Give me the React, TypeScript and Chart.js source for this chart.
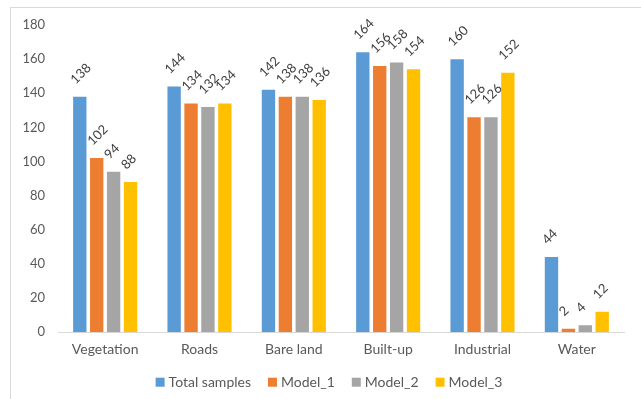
import { useEffect, useRef } from "react";
import { Chart, registerables } from "chart.js";

Chart.register(...registerables);

const categories = ["Vegetation", "Roads", "Bare land", "Built-up", "Industrial", "Water"];
const totalSamples = [138, 144, 142, 164, 160, 44];
const model1 = [102, 134, 138, 156, 126, 2];
const model2 = [94, 132, 138, 158, 126, 4];
const model3 = [88, 134, 136, 154, 152, 12];
const seriesNames = ["Total samples", "Model_1", "Model_2", "Model_3"];
const seriesColors = ["#5B9BD5", "#ED7D31", "#A5A5A5", "#FFC000"];
const yMin = 0;
const yMax = 180;
const yStep = 20;

const FONT = "Lato, 'Open Sans', sans-serif";

// Writes each bar's value above it, tilted 45 degrees.
const valueLabels = {
  id: "valueLabels",
  afterDatasetsDraw(chart: any) {
    const ctx = chart.ctx;
    ctx.save();
    ctx.font = `13px ${FONT}`;
    ctx.fillStyle = "#404040";
    ctx.textAlign = "left";
    ctx.textBaseline = "middle";
    chart.data.datasets.forEach((ds: any, i: number) => {
      const meta = chart.getDatasetMeta(i);
      meta.data.forEach((bar: any, j: number) => {
        ctx.save();
        ctx.translate(bar.x - 7, bar.y - 15);
        ctx.rotate(-Math.PI / 4);
        ctx.fillText(String(ds.data[j]), 0, 0);
        ctx.restore();
      });
    });
    ctx.restore();
  },
};

// Single-row legend under the category labels, with small square swatches.
const bottomLegend = {
  id: "bottomLegend",
  afterDraw(chart: any) {
    const ctx = chart.ctx;
    const { left, right, bottom } = chart.chartArea;
    const box = 9;
    const gap = 4;
    const spacing = 17;
    ctx.save();
    ctx.font = `14px ${FONT}`;
    ctx.textBaseline = "middle";
    ctx.textAlign = "left";
    const items = chart.data.datasets.map((ds: any) => ({
      text: ds.label as string,
      color: ds.backgroundColor as string,
      width: box + gap + ctx.measureText(ds.label).width,
    }));
    const total =
      items.reduce((s: number, it: any) => s + it.width, 0) + spacing * (items.length - 1);
    const center = (left + right) / 2 - 12;
    const y = bottom + 50;
    let x = center - total / 2;
    items.forEach((it: any) => {
      ctx.fillStyle = it.color;
      ctx.fillRect(x, y - box / 2, box, box);
      ctx.fillStyle = "#595959";
      ctx.fillText(it.text, x + box + gap, y);
      x += it.width + spacing;
    });
    ctx.restore();
  },
};

export default function App() {
  const canvasRef = useRef<HTMLCanvasElement | null>(null);

  useEffect(() => {
    const canvas = canvasRef.current;
    if (!canvas) return;
    const values = [totalSamples, model1, model2, model3];
    const chart = new Chart(canvas, {
      type: "bar",
      data: {
        labels: categories,
        datasets: values.map((data, i) => ({
          label: seriesNames[i],
          data,
          backgroundColor: seriesColors[i],
          borderWidth: 0,
          categoryPercentage: 0.717,
          barPercentage: 0.79,
        })),
      },
      options: {
        responsive: false,
        animation: false,
        devicePixelRatio: 1,
        layout: { padding: { left: 18, right: 17, top: 25, bottom: 32 } },
        plugins: {
          legend: { display: false },
          tooltip: { enabled: false },
        },
        scales: {
          x: {
            grid: { display: false, drawTicks: false },
            border: { display: true, color: "#d9d9d9", width: 1 },
            ticks: {
              color: "#595959",
              padding: 9,
              font: { family: FONT, size: 14 },
              maxRotation: 0,
            },
          },
          y: {
            min: yMin,
            max: yMax,
            grid: { display: false, drawTicks: false },
            border: { display: false },
            afterFit: (scale: any) => {
              scale.width = 40;
            },
            ticks: {
              stepSize: yStep,
              color: "#595959",
              padding: 13,
              font: { family: FONT, size: 13 },
            },
          },
        },
      },
      plugins: [valueLabels, bottomLegend],
    });
    return () => chart.destroy();
  }, []);

  return (
    <div
      style={{
        position: "absolute",
        left: 0,
        top: 0,
        width: 641,
        height: 399,
        overflow: "hidden",
        background: "#ffffff",
      }}
    >
      <div
        style={{
          position: "absolute",
          left: 10,
          top: 7,
          width: 700,
          height: 500,
          border: "1px solid #d9d9d9",
        }}
      />
      <canvas
        ref={canvasRef}
        width={641}
        height={399}
        style={{ position: "absolute", left: 0, top: 0, width: 641, height: 399 }}
      />
    </div>
  );
}
